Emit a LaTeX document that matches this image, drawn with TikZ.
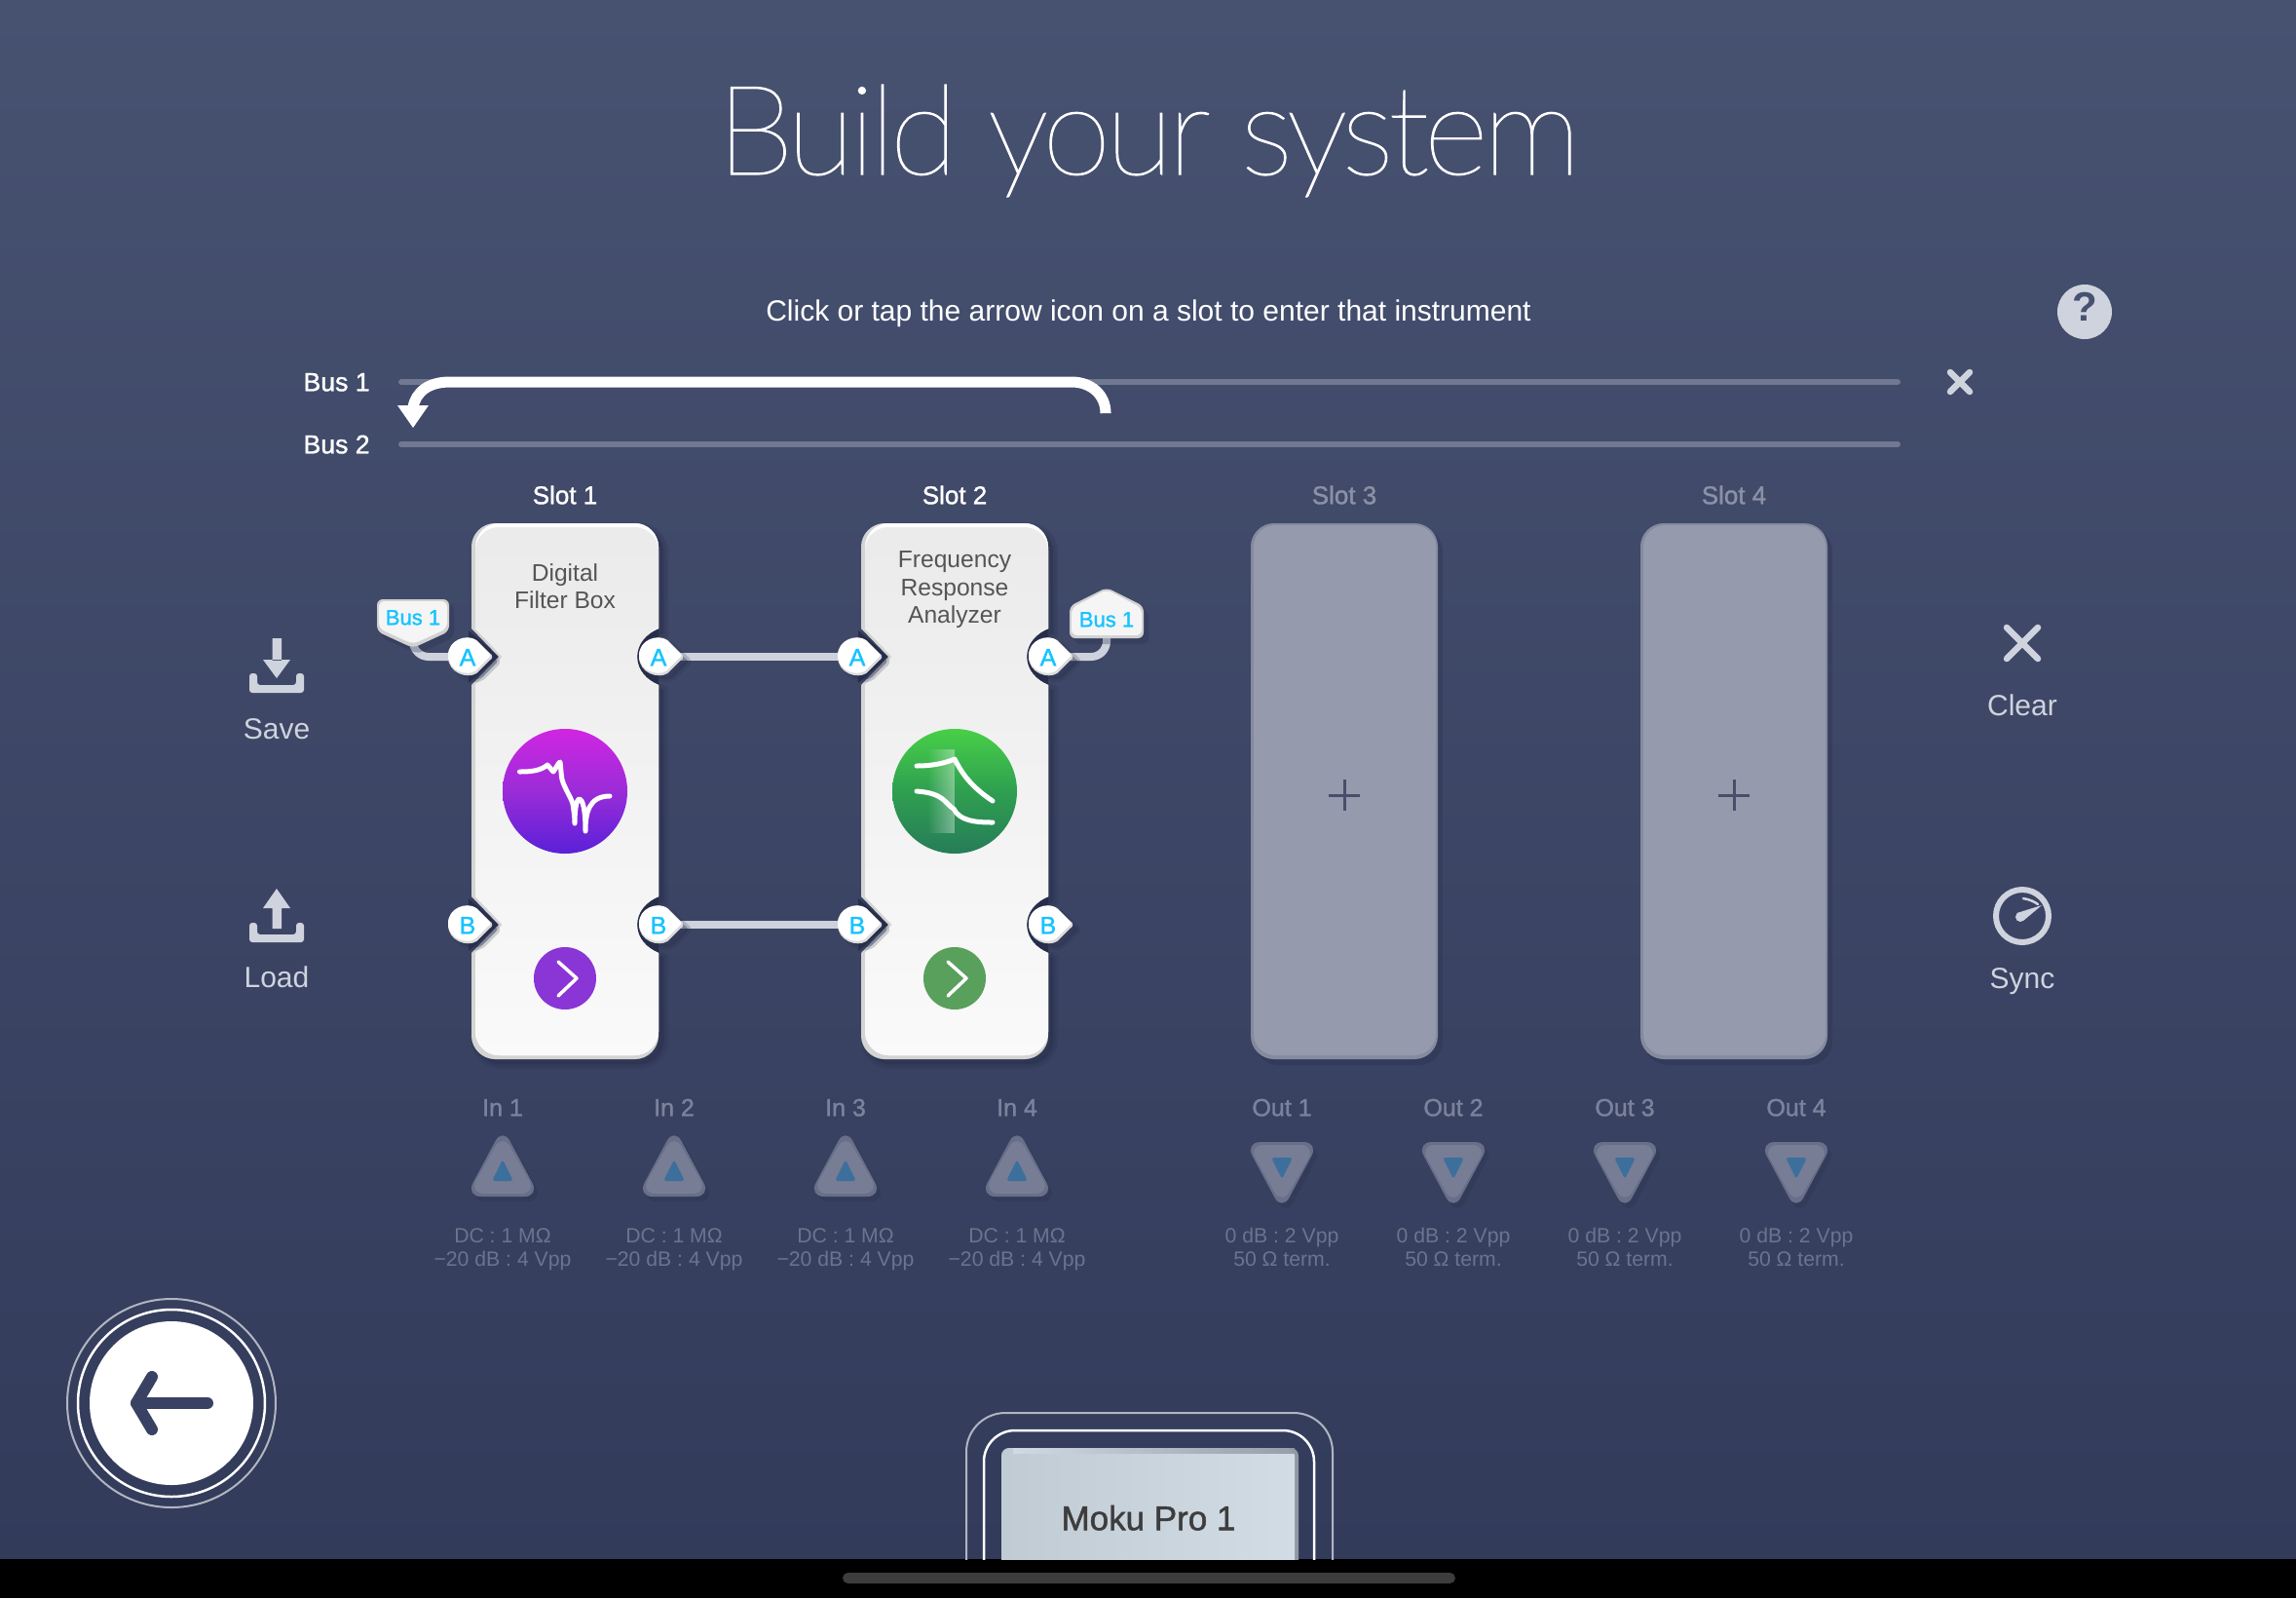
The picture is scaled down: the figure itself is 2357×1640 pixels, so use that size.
\documentclass[tikz,border=0pt]{standalone}
\usepackage{fontspec}
\setmainfont{Liberation Sans}
\newfontfamily\thinfont[LetterSpace=-4.4,FakeBold=0.9]{Lato Thin}
\newfontfamily\medfont[FakeBold=1.4]{Liberation Sans}
\usetikzlibrary{fadings,arrows.meta}
\definecolor{bgtop}{HTML}{475170}
\definecolor{bgbot}{HTML}{333B5B}
\definecolor{busline}{HTML}{717892}
\definecolor{iconc}{HTML}{CFD3DE}
\definecolor{wirec}{HTML}{CDD2DC}
\definecolor{darkgap}{HTML}{272E4B}
\definecolor{cyanc}{HTML}{17C3FF}
\definecolor{dimtext}{HTML}{7B829C}
\definecolor{dimtextb}{HTML}{6C7391}
\definecolor{slottext}{HTML}{555555}
\definecolor{ghostslot}{HTML}{959BAD}
\definecolor{ghostrim}{HTML}{858B9F}
\definecolor{slotdim}{HTML}{8B91A6}
\definecolor{pluscol}{HTML}{474F6A}
\definecolor{tririm}{HTML}{686F88}
\definecolor{triface}{HTML}{767D95}
\definecolor{triblue}{HTML}{3D6F9C}
\definecolor{navy}{HTML}{3A4263}
\definecolor{HTMLpink}{HTML}{D026E2}
\definecolor{HTMLmid}{HTML}{9A2CD8}
\definecolor{HTMLpurp}{HTML}{5A20D8}
\definecolor{HTMLgtop}{HTML}{48CF48}
\definecolor{HTMLgmid}{HTML}{2F9F50}
\definecolor{HTMLgbot}{HTML}{267C58}
\definecolor{HTMLbtnp}{HTML}{8A35D5}
\definecolor{HTMLbtng}{HTML}{58A05C}
\definecolor{HTMLcarda}{HTML}{C0CBD4}
\definecolor{HTMLcardb}{HTML}{D2DCE5}
\definecolor{HTMLcardr}{HTML}{8F98A3}
\newcommand\fs[1]{\fontsize{#1}{#1}\selectfont}
\tikzset{
  x=0.5pt,y=-0.5pt,
  lbl/.style={inner sep=0pt,anchor=mid,align=center,yshift=-2pt},
  lw/.style={line width=#1*0.5pt},
  wire/.style={wirec,lw=8},
  plabel/.style={lbl,text=cyanc,font=\medfont\fs{12.5}},
  taglabel/.style={lbl,yshift=1pt,text=cyanc,font=\medfont\fs{11}},
  slotname/.style={lbl,font=\medfont\fs{13}},
  slotbody/.style={lbl,text=slottext,font=\fs{12.3}},
  icon/.style={iconc,lw=#1,line cap=round,line join=round},
  iconlabel/.style={lbl,text=iconc,font=\fs{15}},
  chanlabel/.style={lbl,text=dimtext,font=\medfont\fs{12.5}},
  chaninfo/.style={lbl,yshift=1.2pt,text=dimtextb,font=\fs{10.6}},
  glyph/.style={white,lw=5,line cap=round,line join=round},
}
% slot outline: left right top bottom leftnotch rightnotch
\newcommand\slotpath[6]{%
 ({#1},{#3+24}) .. controls ({#1},{#3+11}) and ({#1+11},#3) .. ({#1+24},#3)
 -- ({#2-24},#3) .. controls ({#2-11},#3) and (#2,{#3+11}) .. (#2,{#3+24})
 -- (#2,645) .. controls ({#2-12},650) and ({#2-#6},660) .. ({#2-#6},674)
 .. controls ({#2-#6},688) and ({#2-12},698) .. (#2,703)
 -- (#2,920) .. controls ({#2-12},925) and ({#2-#6},935) .. ({#2-#6},949)
 .. controls ({#2-#6},963) and ({#2-12},973) .. (#2,978)
 -- (#2,{#4-24}) .. controls (#2,{#4-11}) and ({#2-11},#4) .. ({#2-24},#4)
 -- ({#1+24},#4) .. controls ({#1+11},#4) and (#1,{#4-11}) .. (#1,{#4-24})
 -- (#1,978) -- ({#1+#5},949) -- (#1,920) -- (#1,703) -- ({#1+#5},674) -- (#1,645) -- cycle}
% port outline centred on cx,cy
\newcommand\portpath[2]{%
 ({#1+19},{#2-3}) -- ({#1+6},{#2-16}) .. controls ({#1-3},{#2-22}) and ({#1-22},{#2-16}) .. ({#1-22},#2)
 .. controls ({#1-22},{#2+16}) and ({#1-3},{#2+22}) .. ({#1+6},{#2+16}) -- ({#1+19},{#2+3})
 .. controls ({#1+22},{#2+1}) and ({#1+22},{#2-1}) .. ({#1+19},{#2-3}) -- cycle}
\newcommand\portfig[4]{% name cx cy letter
 \fill[darkgap,opacity=.35,lw=6,line join=round] \portpath{#2+6}{#3+5};
 \draw[darkgap,opacity=.2,lw=6,line join=round] \portpath{#2+6}{#3+5};
 \filldraw[fill=black!14,draw=black!14,lw=2,line join=round] \portpath{#2}{#3};
 \fill[white] \portpath{#2-1}{#3-1.5};
 \node[plabel] (#1) at ({#2-3},#3) {#4};
}
\newcommand\softshadow[2]{% offset, path
 \begin{scope}[shift={(#1,#1)}]
 \fill[darkgap,opacity=.4] #2;
 \draw[darkgap,opacity=.2,lw=10] #2;
 \draw[darkgap,opacity=.15,lw=5] #2;
 \end{scope}}
\begin{document}
\begin{tikzpicture}
\useasboundingbox (0,0) rectangle (2357,1640);
% background
\shade[top color=bgtop,bottom color=bgbot] (0,0) rectangle (2357,1600);
\fill[black] (0,1600) rectangle (2357,1640);
\fill[black!76,rounded corners=2.75pt] (865,1614) rectangle (1494,1625);
% title
\node[inner sep=0pt,anchor=base,text=white,font=\thinfont\fs{64}] (title) at (1179,179) {Build your system};
\node[lbl,text=white,font=\fs{15}] (hint) at (1179,320) {Click or tap the arrow icon on a slot to enter that instrument};
% help
\fill[iconc] (2140,320) circle[radius=28];
\node[lbl,text=bgtop,font=\bfseries\fs{21}] (help) at (2140,320) {?};
% buses
\coordinate (b1s) at (412,392); \coordinate (b1e) at (1948,392);
\coordinate (b2s) at (412,456); \coordinate (b2e) at (1948,456);
\draw[busline,lw=6,line cap=round] (b1s) -- (b1e);
\draw[busline,lw=6,line cap=round] (b2s) -- (b2e);
\node[lbl,anchor=mid east,text=white,font=\medfont\fs{13.3}] (bus1) at (380,392) {Bus 1};
\node[lbl,anchor=mid east,text=white,font=\medfont\fs{13.3}] (bus2) at (380,456) {Bus 2};
\draw[icon=6.5] (2002,382) -- (2022,402) (2022,382) -- (2002,402);
% slot labels
\node[slotname,text=white] (sl1) at (580,508) {Slot 1};
\node[slotname,text=white] (sl2) at (980,508) {Slot 2};
\node[slotname,text=slotdim] (sl3) at (1380,508) {Slot 3};
\node[slotname,text=slotdim] (sl4) at (1780,508) {Slot 4};
% notch gaps + real slots
\foreach \o in {0,400}{
 \begin{scope}[shift={(\o,0)}]
 \softshadow{5}{\slotpath{484}{676}{537}{1087}{28}{26}}
 \fill[darkgap] (481,647) -- (512,674) -- (481,701) -- cycle;
 \fill[darkgap] (481,922) -- (512,949) -- (481,976) -- cycle;
 \fill[darkgap] (676,645) .. controls (660,650) and (648,660) .. (648,674) .. controls (648,688) and (660,698) .. (676,703) -- cycle;
 \fill[darkgap] (676,920) .. controls (660,925) and (648,935) .. (648,949) .. controls (648,963) and (660,973) .. (676,978) -- cycle;
 \fill[black!17] \slotpath{484}{676}{537}{1087}{28}{26};
 \fill[white] \slotpath{488}{676}{537}{1083}{28}{22};
 \shade[top color=black!8,bottom color=black!2] \slotpath{488}{676}{541}{1083}{28}{22};
 \end{scope}
}
% empty slots
\foreach \o/\n in {0/3,400/4}{
 \begin{scope}[shift={(\o,0)}]
 \fill[darkgap,opacity=.3,rounded corners=12pt] (1288,542) rectangle (1481,1093);
 \fill[ghostrim,rounded corners=12pt] (1284,537) rectangle (1476,1087);
 \fill[ghostslot,rounded corners=11pt] (1287,539) rectangle (1474,1083);
 \draw[pluscol,lw=3] (1364,816) -- (1396,816) (1380,800) -- (1380,832);
 \end{scope}
}
% wires
\coordinate (s1Ar) at (679,674); \coordinate (s2Al) at (883,674);
\coordinate (s1Br) at (679,949); \coordinate (s2Bl) at (883,949);
\coordinate (s1Al) at (483,674); \coordinate (s2Ar) at (1079,674);
\coordinate (t1) at (424,650); \coordinate (t2) at (1136,650);
\draw[wire] (s1Ar) -- (s2Al);
\draw[wire] (s1Br) -- (s2Bl);
\draw[wire,rounded corners=8pt] (t1) |- (s1Al);
\draw[wire,rounded corners=8pt] (t2) |- (s2Ar);
% ports
\portfig{pA1l}{483}{674}{A}
\portfig{pA1r}{679}{674}{A}
\portfig{pA2l}{883}{674}{A}
\portfig{pA2r}{1079}{674}{A}
\portfig{pB1l}{483}{949}{B}
\portfig{pB1r}{679}{949}{B}
\portfig{pB2l}{883}{949}{B}
\portfig{pB2r}{1079}{949}{B}
% bus tags
\begin{scope}[line join=round]
\fill[darkgap,opacity=.3,rounded corners=3pt] (391,620) -- (466,620) -- (466,654) -- (429,671) -- (391,654) -- cycle;
\fill[black!18,rounded corners=3pt] (387,615) -- (461,615) -- (461,648) -- (424,665) -- (387,648) -- cycle;
\fill[black!4,rounded corners=3pt] (389,617) -- (459,617) -- (459,645) -- (424,661) -- (389,645) -- cycle;
\node[taglabel] (tag1) at (424,634) {Bus 1};
\fill[darkgap,opacity=.3,rounded corners=3pt] (1103,628) -- (1141,609) -- (1179,628) -- (1179,661) -- (1103,661) -- cycle;
\fill[black!18,rounded corners=3pt] (1098,622) -- (1136,603) -- (1174,622) -- (1174,655) -- (1098,655) -- cycle;
\fill[black!4,rounded corners=3pt] (1100,624) -- (1136,605) -- (1172,624) -- (1172,652) -- (1100,652) -- cycle;
\node[taglabel] (tag2) at (1136,636) {Bus 1};
\end{scope}
% slot text
\node[slotbody] (d1) at (580,587) {Digital};
\node[slotbody] (d2) at (580,615) {Filter Box};
\node[slotbody] (f1) at (980,573) {Frequency};
\node[slotbody] (f2) at (980,602) {Response};
\node[slotbody] (f3) at (980,630) {Analyzer};
% instrument icons
\shade[top color=HTMLpink,bottom color=HTMLpurp,middle color=HTMLmid] (580,812) circle[radius=64];
\draw[glyph] (533.5,792) .. controls (545,792) and (555,791) .. (562,785) -- (568,792) .. controls (571,788) and (573,783) .. (575,782) .. controls (576,790) and (576,795) .. (577,800) .. controls (580,810) and (586,818) .. (588,825) .. controls (589,832) and (590,838) .. (590,845) .. controls (590,835) and (591,820) .. (595,820) .. controls (600,822) and (601,840) .. (601,853) .. controls (601,835) and (604,817) .. (626,817);
\shade[top color=HTMLgtop,bottom color=HTMLgbot,middle color=HTMLgmid] (980,812) circle[radius=64];
\fill[white,path fading=west,opacity=.38] (952,769) rectangle (980,855);
\draw[glyph] (941,786) .. controls (955,786) and (968,784) .. (980,779) .. controls (988,795) and (998,808) .. (1019,822);
\draw[glyph] (941,812) .. controls (970,814) and (970,825) .. (979,830) .. controls (985,842) and (1000,844) .. (1019,844);
% enter buttons
\fill[HTMLbtnp] (580,1004) circle[radius=32];
\draw[white,lw=3.5,line cap=round,line join=round] (573,987) -- (592,1004) -- (573,1022);
\fill[HTMLbtng] (980,1004) circle[radius=32];
\draw[white,lw=3.5,line cap=round,line join=round] (973,987) -- (992,1004) -- (973,1022);
% channels in
\foreach \c/\n in {516/1,692/2,868/3,1044/4}{
 \node[chanlabel] (in\n) at (\c,1136) {In \n};
 \fill[darkgap,opacity=.25,rounded corners=8pt] (\c+4,1162) -- (\c+42,1233) -- (\c-34,1233) -- cycle;
 \fill[tririm,rounded corners=8pt] (\c,1157) -- (\c+38,1228) -- (\c-38,1228) -- cycle;
 \fill[triface,rounded corners=8pt] (\c,1163) -- (\c+35,1225) -- (\c-35,1225) -- cycle;
 \fill[triblue,rounded corners=1.5pt] (\c,1190) -- (\c+11,1212) -- (\c-11,1212) -- cycle;
 \node[chaninfo] (ina\n) at (\c,1269) {DC : 1 M\char"03A9};
 \node[chaninfo] (inb\n) at (\c,1293) {\char"2212 20 dB : 4 Vpp};
}
% channels out
\foreach \c/\n in {1316/1,1492/2,1668/3,1844/4}{
 \node[chanlabel] (out\n) at (\c,1136) {Out \n};
 \fill[darkgap,opacity=.25,rounded corners=8pt] (\c+4,1248) -- (\c+42,1177) -- (\c-34,1177) -- cycle;
 \fill[tririm,rounded corners=8pt] (\c,1243) -- (\c+38,1172) -- (\c-38,1172) -- cycle;
 \fill[triface,rounded corners=8pt] (\c,1237) -- (\c+35,1175) -- (\c-35,1175) -- cycle;
 \fill[triblue,rounded corners=1.5pt] (\c,1210) -- (\c+11,1188) -- (\c-11,1188) -- cycle;
 \node[chaninfo] (outa\n) at (\c,1269) {0 dB : 2 Vpp};
 \node[chaninfo] (outb\n) at (\c,1293) {50 \char"03A9{} term.};
}
% save
\fill[iconc] (279.5,655) rectangle (289,678) (270,677) -- (298,677) -- (284,696) -- cycle;
\fill[iconc,rounded corners=1.5pt] (256,691) -- (264,691) -- (264,703) -- (304,703) -- (304,691) -- (312,691) -- (312,711) -- (256,711) -- cycle;
\node[iconlabel] (save) at (284,749) {Save};
% load
\fill[iconc] (279.5,930) rectangle (289,953) (270,932) -- (298,932) -- (284,912) -- cycle;
\fill[iconc,rounded corners=1.5pt] (256,947) -- (264,947) -- (264,959) -- (304,959) -- (304,947) -- (312,947) -- (312,967) -- (256,967) -- cycle;
\node[iconlabel] (load) at (284,1004) {Load};
% clear
\draw[icon=6.5] (2060,644) -- (2092,676) (2092,644) -- (2060,676);
\node[iconlabel] (clear) at (2076,725) {Clear};
% sync
\draw[iconc,lw=6] (2076,940) circle[radius=27];
\fill[iconc] (2074,941) circle[radius=5] (2070.5,937) -- (2096,929) -- (2077,945) -- cycle;
\draw[iconc,lw=2.5,line cap=round] (2077,922) .. controls (2083,923) and (2088,925) .. (2092,928);
\node[iconlabel] (sync) at (2076,1005) {Sync};
% back
\draw[white!62!bgbot,lw=2] (176,1440) circle[radius=107];
\draw[white,lw=2.5] (176,1440) circle[radius=96];
\fill[white] (176,1440) circle[radius=84];
\coordinate (backtail) at (213,1440); \coordinate (backtip) at (140,1440);
\draw[navy,lw=12,line cap=round,line join=round] (backtail) -- (backtip);
\draw[navy,lw=12,line cap=round,line join=round] (156,1413) -- (140,1440) -- (156,1467);
% moku card
\begin{scope}
\clip (0,0) rectangle (2357,1600);
\draw[white!62!bgbot,lw=2,rounded corners=20pt] (992,1650) -- (992,1450) -- (1368,1450) -- (1368,1650);
\draw[white,lw=2.5,rounded corners=16pt] (1010,1650) -- (1010,1468) -- (1349,1468) -- (1349,1650);
\fill[HTMLcardr,rounded corners=4pt] (1028,1650) -- (1028,1486) -- (1333,1486) -- (1333,1650) -- cycle;
\shade[left color=HTMLcarda,right color=HTMLcardb,rounded corners=4pt] (1028,1650) -- (1028,1486) -- (1329,1486) -- (1329,1650) -- cycle;
\shade[left color=HTMLcardb,right color=HTMLcardr,opacity=.9] (1040,1486) rectangle (1329,1491);
\end{scope}
\node[lbl,text=black!76,font=\medfont\fs{17.5}] (moku) at (1179,1561) {Moku Pro 1};
% curved data arrow
\coordinate (from) at (1135,423); \coordinate (to) at (424,439);
\draw[white,lw=11] (from) -- (1135,424) .. controls (1135,405) and (1120,392) .. (1100,392) -- (462,392) .. controls (440,392) and (427,402) .. (424,418);
\fill[white] (408,416) -- (440,416) -- (to) -- cycle;
\end{tikzpicture}
\end{document}
